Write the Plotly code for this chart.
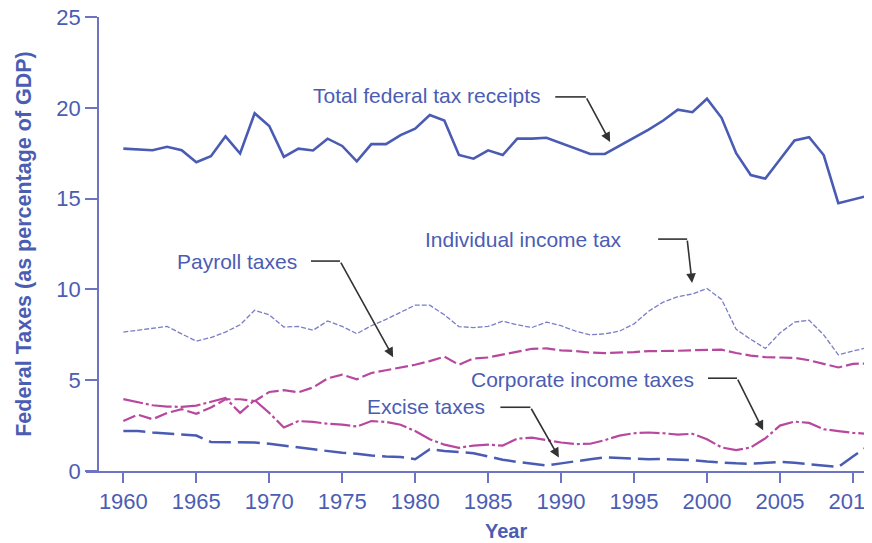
import plotly.graph_objects as go

years = list(range(1960, 2012))

total_receipts = [17.75, 17.7, 17.66, 17.85, 17.66, 17.0, 17.33, 18.43, 17.48, 19.7,
                  19.0, 17.3, 17.75, 17.65, 18.3, 17.9, 17.05, 18.0, 18.0, 18.5,
                  18.85, 19.6, 19.3, 17.4, 17.2, 17.66, 17.4, 18.3, 18.3, 18.35,
                  18.05, 17.75, 17.46, 17.46, 17.9, 18.35, 18.8, 19.3, 19.9, 19.76,
                  20.5, 19.45, 17.5, 16.3, 16.1, 17.15, 18.2, 18.38, 17.4, 14.75,
                  14.95, 15.15]

individual_income = [7.65, 7.75, 7.85, 7.96, 7.55, 7.15, 7.35, 7.65, 8.05, 8.85,
                     8.6, 7.93, 7.96, 7.75, 8.26, 7.96, 7.56, 8.0, 8.35, 8.75,
                     9.13, 9.13, 8.6, 7.95, 7.9, 7.96, 8.25, 8.05, 7.9, 8.2,
                     8.0, 7.7, 7.5, 7.55, 7.7, 8.1, 8.8, 9.3, 9.6, 9.75,
                     10.05, 9.45, 7.8, 7.25, 6.75, 7.6, 8.2, 8.3, 7.5, 6.4,
                     6.6, 6.8]

payroll = [2.75, 3.1, 2.85, 3.2, 3.4, 3.15, 3.5, 3.95, 3.95, 3.85,
           4.35, 4.45, 4.33, 4.6, 5.1, 5.3, 5.05, 5.4, 5.55, 5.7,
           5.85, 6.05, 6.3, 5.85, 6.2, 6.25, 6.4, 6.55, 6.73, 6.75,
           6.64, 6.6, 6.52, 6.49, 6.5, 6.55, 6.6, 6.6, 6.62, 6.65,
           6.68, 6.68, 6.5, 6.35, 6.27, 6.25, 6.23, 6.1, 5.9, 5.7,
           5.9, 5.92]

corporate = [3.96, 3.8, 3.62, 3.55, 3.53, 3.6, 3.8, 4.02, 3.2, 3.9,
             3.2, 2.4, 2.75, 2.7, 2.6, 2.55, 2.45, 2.75, 2.7, 2.55,
             2.2, 1.75, 1.45, 1.28, 1.4, 1.45, 1.4, 1.78, 1.84, 1.7,
             1.57, 1.48, 1.5, 1.7, 1.95, 2.08, 2.12, 2.08, 2.0, 2.05,
             1.75, 1.3, 1.15, 1.3, 1.8, 2.5, 2.72, 2.65, 2.3, 2.2,
             2.1, 2.05]

excise = [2.2, 2.2, 2.12, 2.05, 2.0, 1.95, 1.6, 1.6, 1.6, 1.57,
          1.5, 1.4, 1.28, 1.2, 1.1, 1.0, 0.95, 0.85, 0.8, 0.77,
          0.65, 1.2, 1.1, 1.05, 0.98, 0.8, 0.62, 0.5, 0.4, 0.3,
          0.42, 0.55, 0.65, 0.75, 0.72, 0.66, 0.65, 0.66, 0.65, 0.6,
          0.52, 0.45, 0.42, 0.4, 0.45, 0.5, 0.45, 0.37, 0.28, 0.22,
          0.8, 1.35]

x_ticks = [1960, 1965, 1970, 1975, 1980, 1985, 1990, 1995, 2000, 2005, 2010]
y_ticks = [0, 5, 10, 15, 20, 25]

BLUE = "#4a5bb4"
TEXT = "#4b5db3"
MAG = "#b8489e"
LIGHT = "#7a7ec6"
AXIS = "#6d74c2"
FONT = "Liberation Sans, Arial, sans-serif"

fig = go.Figure()
fig.add_trace(go.Scatter(x=years, y=individual_income, mode="lines",
                         line=dict(color=LIGHT, width=1.3, dash="5px,2px")))
fig.add_trace(go.Scatter(x=years, y=payroll, mode="lines",
                         line=dict(color=MAG, width=2.2, dash="13px,4px")))
fig.add_trace(go.Scatter(x=years, y=corporate, mode="lines",
                         line=dict(color=MAG, width=2.2, dash="20px,3px,3px,3px")))
fig.add_trace(go.Scatter(x=years, y=excise, mode="lines",
                         line=dict(color=BLUE, width=2.5, dash="22px,7px")))
fig.add_trace(go.Scatter(x=years, y=total_receipts, mode="lines",
                         line=dict(color=BLUE, width=2.6)))

# label annotations: (text, text_x, text_y, hstart_x, hend_x, h_y, tip_x, tip_y)
labels = [
    ("Total federal tax receipts", 1973.0, 20.66, 1989.6, 1991.7, 20.6, 1993.36, 18.12),
    ("Individual income tax", 1980.68, 12.77, 1996.65, 1998.64, 12.77, 1998.98, 10.35),
    ("Payroll taxes", 1963.68, 11.56, 1972.86, 1974.85, 11.56, 1978.49, 6.27),
    ("Corporate income taxes", 1983.83, 5.06, 2000.07, 2002.06, 5.11, 2003.85, 2.24),
    ("Excise taxes", 1976.70, 3.57, 1985.84, 1987.9, 3.51, 1989.85, 0.75),
]
for txt, tx, ty, hx0, hx1, hy, px, py in labels:
    fig.add_annotation(x=tx, y=ty, xref="x", yref="y", text=txt, showarrow=False,
                       xanchor="left", yanchor="middle", xshift=-2,
                       font=dict(family=FONT, size=21, color=TEXT))
    fig.add_shape(type="line", x0=hx0, x1=hx1, y0=hy, y1=hy, xref="x", yref="y",
                  line=dict(color="#333333", width=1.6))
    fig.add_annotation(x=px, y=py, ax=hx1, ay=hy, xref="x", yref="y",
                       axref="x", ayref="y", text="", showarrow=True,
                       arrowhead=2, arrowsize=1.2, arrowwidth=1.6,
                       arrowcolor="#333333", standoff=0, startstandoff=0)

# x-axis title, placed off-centre as in the original
fig.add_annotation(x=1986.2, y=0, xref="x", yref="paper", yshift=-60,
                   text="<b>Year</b>", showarrow=False, xanchor="center",
                   yanchor="middle", font=dict(family=FONT, size=20, color=TEXT))

# The page body has an 8px margin, so the figure is sized/offset to compensate.
fig.update_layout(
    width=864, height=535,
    margin=dict(l=78, r=0, t=9, b=72, autoexpand=False),
    paper_bgcolor="white", plot_bgcolor="white",
    showlegend=False,
    font=dict(family=FONT, color=TEXT),
    xaxis=dict(range=[1957.44, 2011.31], tickvals=x_ticks, showgrid=False,
               zeroline=False, showline=True, linecolor=AXIS, linewidth=1.5,
               ticks="outside", ticklen=10, tickwidth=1.5, tickcolor=AXIS,
               automargin=False, ticklabeloverflow="allow",
               tickfont=dict(family=FONT, size=22, color=TEXT)),
    yaxis=dict(range=[0, 25], tickvals=y_ticks, showgrid=False, zeroline=False,
               anchor="free", position=0.01527, automargin=False,
               ticklabeloverflow="allow",
               showline=True, linecolor=AXIS, linewidth=1.5,
               ticks="outside", ticklen=12, tickwidth=1.5, tickcolor=AXIS,
               tickfont=dict(family=FONT, size=22, color=TEXT),
               title=dict(text="<b>Federal Taxes (as percentage of GDP)</b>",
                          font=dict(family=FONT, size=21.5, color=TEXT), standoff=18)),
)

fig.write_html("out.html")
